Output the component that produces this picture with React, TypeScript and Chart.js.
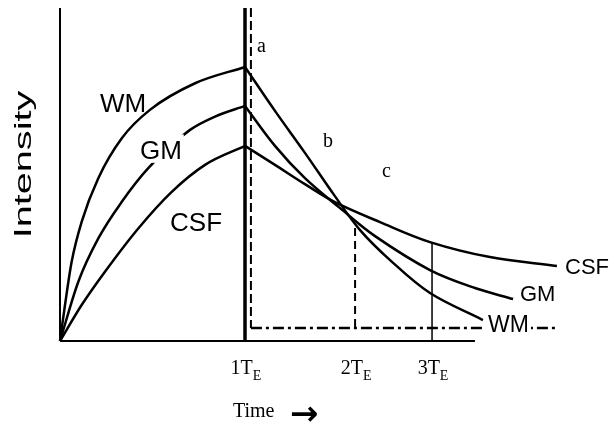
import React, { useEffect, useRef } from "react";
import { Chart, registerables } from "chart.js";

Chart.register(...registerables);

// Time is in units of T_E (schematic), intensity is normalised 0..1
const wmRiseX = [0, 0.027, 0.063, 0.117, 0.207, 0.334, 0.486, 0.73, 1.0];
const wmRiseY = [0, 0.108, 0.238, 0.358, 0.489, 0.609, 0.694, 0.774, 0.823];
const gmRiseX = [0, 0.099, 0.207, 0.334, 0.477, 0.703, 0.838, 1.0];
const gmRiseY = [0, 0.178, 0.308, 0.418, 0.519, 0.634, 0.674, 0.706];
const csfRiseX = [0, 0.117, 0.243, 0.423, 0.604, 0.784, 1.0];
const csfRiseY = [0, 0.108, 0.208, 0.338, 0.448, 0.529, 0.586];

const wmDecayX = [1.0, 1.162, 1.324, 1.486, 1.622, 1.784, 2.0, 2.286];
const wmDecayY = [0.823, 0.691, 0.565, 0.435, 0.333, 0.243, 0.144, 0.063];
const gmDecayX = [1.0, 1.162, 1.324, 1.514, 1.703, 2.0, 2.243, 2.449];
const gmDecayY = [0.706, 0.586, 0.489, 0.399, 0.315, 0.213, 0.159, 0.126];
const csfDecayX = [1.0, 1.162, 1.324, 1.486, 1.73, 2.0, 2.324, 2.686];
const csfDecayY = [0.586, 0.529, 0.471, 0.417, 0.357, 0.297, 0.252, 0.225];

// Echo-time ticks
const teTicks = [1.0, 1.595, 2.011];
const teTickLabels = ["1T", "2T", "3T"];
const teSubscript = "E";

// Reference lines (x values and y values)
const xAxisEnd = 2.243;
const aLineX = 1.032;
const aFloorY = 0.039;
const aFloorEnd = 2.676;
const te2Top = 0.339;
const te3Top = 0.294;

// Text labels: [text, x, y, size, whiteBackground] in data units (left/baseline)
const curveLabels: [string, number, number, number, boolean][] = [
  ["WM", 0.216, 0.688, 26, false],
  ["GM", 0.432, 0.547, 26, true],
  ["CSF", 0.595, 0.33, 26, false],
  ["WM", 2.314, 0.027, 23, true],
  ["GM", 2.486, 0.12, 22, false],
  ["CSF", 2.73, 0.201, 22, false],
];
const letterLabels: [string, number, number][] = [
  ["a", 1.065, 0.868],
  ["b", 1.422, 0.583],
  ["c", 1.741, 0.492],
];
const yTitle = "Intensity";
const xTitle = "Time";
const xArrow = "→";

const pts = (xs: number[], ys: number[]) => xs.map((x, i) => ({ x, y: ys[i] }));

const line = (data: any[], extra: any = {}) => ({
  data,
  borderColor: "#000",
  borderWidth: 2.5,
  pointRadius: 0,
  fill: false,
  clip: false,
  tension: 0,
  ...extra,
});

const textPlugin = {
  id: "texts",
  beforeDraw(chart: any) {
    const ctx = chart.ctx;
    ctx.save();
    ctx.fillStyle = "#fff";
    ctx.fillRect(0, 0, chart.width, chart.height);
    ctx.restore();
  },
  afterDatasetsDraw(chart: any) {
    const { ctx, chartArea } = chart;
    const xs = chart.scales.x;
    const ys = chart.scales.y;
    ctx.save();
    ctx.fillStyle = "#000";
    ctx.textAlign = "left";
    ctx.textBaseline = "alphabetic";

    // curve labels
    for (const [t, x, y, size, bg] of curveLabels) {
      ctx.font = `${size}px "Liberation Sans", Arial, sans-serif`;
      const px = xs.getPixelForValue(x);
      const py = ys.getPixelForValue(y);
      if (bg) {
        const w = ctx.measureText(t).width;
        ctx.fillStyle = "#fff";
        ctx.fillRect(px - 4, py - size * 0.75 - 5, w + 6, size * 0.75 + 9);
        ctx.fillStyle = "#000";
      }
      ctx.fillText(t, px, py);
    }

    // a, b, c
    ctx.font = `20px "Liberation Serif", "Times New Roman", serif`;
    for (const [t, x, y] of letterLabels) {
      ctx.fillText(t, xs.getPixelForValue(x), ys.getPixelForValue(y));
    }

    // tick labels with subscript
    const base = chartArea.bottom + 33;
    teTicks.forEach((v, i) => {
      const main = teTickLabels[i];
      ctx.font = `20px "Liberation Serif", "Times New Roman", serif`;
      const w1 = ctx.measureText(main).width;
      ctx.font = `14px "Liberation Serif", "Times New Roman", serif`;
      const w2 = ctx.measureText(teSubscript).width;
      const left = xs.getPixelForValue(v) - (w1 + w2) / 2 + 1;
      ctx.font = `20px "Liberation Serif", "Times New Roman", serif`;
      ctx.fillText(main, left, base);
      ctx.font = `14px "Liberation Serif", "Times New Roman", serif`;
      ctx.fillText(teSubscript, left + w1, base + 6);
    });

    // x title
    ctx.font = `20px "Liberation Serif", "Times New Roman", serif`;
    const tx = xs.getPixelForValue(0.935);
    ctx.fillText(xTitle, tx, chartArea.bottom + 76);
    ctx.font = `bold 34px "DejaVu Sans", sans-serif`;
    ctx.fillText(xArrow, tx + 57, chartArea.bottom + 84);

    // y title (stretched)
    ctx.translate(31, (chartArea.top + chartArea.bottom) / 2 - 10);
    ctx.rotate(-Math.PI / 2);
    ctx.scale(1.65, 1);
    ctx.textAlign = "center";
    ctx.font = `24px "Liberation Sans", Arial, sans-serif`;
    ctx.fillText(yTitle, 0, 0);
    ctx.restore();
  },
};

export default function App() {
  const ref = useRef<HTMLCanvasElement>(null);
  useEffect(() => {
    if (!ref.current) return;
    const chart = new Chart(ref.current, {
      type: "line",
      data: {
        datasets: [
          line(pts([0, 0], [0, 1]), { borderWidth: 2 }),
          line(pts([0, xAxisEnd], [0, 0]), { borderWidth: 2 }),
          line(pts([teTicks[0], teTicks[0]], [0, 1]), { borderWidth: 3.5 }),
          line(pts([aLineX, aLineX], [1, aFloorY]), { borderWidth: 2, borderDash: [9, 4] }),
          line(pts([aLineX, aFloorEnd], [aFloorY, aFloorY]), { borderWidth: 2.5, borderDash: [11, 4, 3, 4] }),
          line(pts([teTicks[1], teTicks[1]], [te2Top, aFloorY]), { borderWidth: 2, borderDash: [8, 5] }),
          line(pts([teTicks[2], teTicks[2]], [te3Top, 0]), { borderWidth: 1.5 }),
          line(pts(wmRiseX, wmRiseY), { cubicInterpolationMode: "monotone" }),
          line(pts(gmRiseX, gmRiseY), { cubicInterpolationMode: "monotone" }),
          line(pts(csfRiseX, csfRiseY), { cubicInterpolationMode: "monotone" }),
          line(pts(wmDecayX, wmDecayY), { tension: 0.35 }),
          line(pts(gmDecayX, gmDecayY), { tension: 0.35 }),
          line(pts(csfDecayX, csfDecayY), { tension: 0.35 }),
        ] as any,
      },
      options: {
        animation: false,
        responsive: false,
        devicePixelRatio: 1,
        layout: { padding: { left: 60, top: 8, right: 50.5, bottom: 91 } },
        plugins: { legend: { display: false }, tooltip: { enabled: false } },
        scales: {
          x: { type: "linear", min: 0, max: 2.7, display: false },
          y: { type: "linear", min: 0, max: 1, display: false },
        },
      } as any,
      plugins: [textPlugin],
    });
    return () => chart.destroy();
  }, []);
  return (
    <div style={{ position: "fixed", left: 0, top: 0, width: 610, height: 432, background: "#fff" }}>
      <canvas ref={ref} width={610} height={432} />
    </div>
  );
}
